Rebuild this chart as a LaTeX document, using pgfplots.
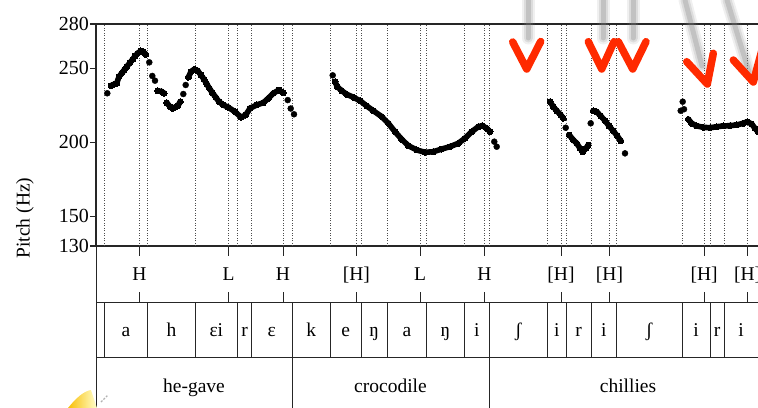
\documentclass[border=0pt]{standalone}
\usepackage{pgfplots}
\pgfplotsset{compat=1.18}
\usepackage{fontspec}
\setmainfont{Liberation Serif}
\definecolor{markred}{HTML}{FF2A00}
\newcommand{\lbl}{\fontsize{19.5bp}{22bp}\selectfont}

\pgfplotsset{
  run/.style={black, line width=5.6bp, line join=round, line cap=round,
    mark=*, mark size=3bp, mark options={solid, line width=0pt}},
  dots/.style={black, only marks, mark=*, mark size=3bp},
}
\tikzset{
  tier/.style={black!85, line width=1bp},
  bound/.style={black!70, line width=0.9bp, dash pattern=on 0.9bp off 1.6bp},
}
% tone tier: tick marks above and below the label
\newcommand{\tone}[2]{%
  \draw[tier] (axis cs:#1,-246) -- (axis cs:#1,-256);
  \draw[tier] (axis cs:#1,-292) -- (axis cs:#1,-302);
  \node[anchor=base, inner sep=0pt] at (axis cs:#1,-280.7) {\lbl #2};}
\newcommand{\seg}[2]{%
  \node[anchor=base, inner sep=0pt] at (axis cs:#1,-336.7) {\lbl #2};}
\newcommand{\word}[2]{%
  \node[anchor=base, inner sep=0pt] at (axis cs:#1,-392) {\lbl #2};}

\begin{document}
\begin{tikzpicture}
\useasboundingbox (0,0) rectangle (758bp,-408bp);

% ---------------- pitch track ----------------
\begin{axis}[
  at={(96bp,-246bp)}, anchor=south west,
  scale only axis, width=684bp, height=222bp,
  xmin=96, xmax=780, ymin=130, ymax=280,
  axis line style={black!85, line width=1.3bp},
  xtick=\empty,
  ytick={130,150,200,250,280},
  ytick pos=left, tick align=outside,
  major tick length=6bp,
  tick style={black!85, line width=1.3bp},
  yticklabel style={font=\fontsize{20bp}{20bp}\selectfont, inner sep=1bp},
  /pgf/number format/assume math mode=true,
  /pgf/number format/1000 sep={},
]
% interval boundaries and tone points
\pgfplotsinvokeforeach{104.3,139.5,147.7,195.3,228.7,237.3,251.7,283,292,330.7,
  356.3,361,387.3,420,426.7,464.3,484.5,489.3,547.3,561,566.3,591,609.5,616.3,
  682,704.2,710,724,747.7}{
  \draw[bound] (axis cs:#1,130) -- (axis cs:#1,280);
}

% "he gave"
\addplot[dots] coordinates {(107.3,233.2)};
\addplot[run] coordinates {(111,238.3) (114.3,239.3) (116.7,239.9) (119,244.4)
  (121.7,246.7) (124.3,248.9) (126.7,251.1) (130,253.9) (132.7,256.1) (135,258.4)
  (137.7,260.2) (140.7,261.8) (143.3,261.3) (145.7,259.5)};
\addplot[dots] coordinates {(149.3,254.1) (152.3,244.9) (155,241.7)};
\addplot[run] coordinates {(157.7,234.9) (161.7,234.3) (164,233.2)};
\addplot[run] coordinates {(166.7,226.8) (170,224.1) (172.7,223) (175,223.7)
  (177.7,224.6) (180.3,227.5)};
\addplot[dots] coordinates {(183.3,232.7) (185.7,238.8)};
\addplot[run] coordinates {(188.3,244) (191,247.8) (194.3,249.4) (197.7,248.4)
  (201,245.5) (204,242.6) (206.7,239.5) (209.3,236.6) (212.3,233.6) (215.7,230.5)
  (219,227.5) (223.3,225.3) (228.3,223.7) (235,220.7) (241,217) (245.7,218.5)
  (250,223) (256.7,225.3) (263.3,226.8) (268.3,229.8) (273.3,233.2) (279,235.4)
  (283.3,233.4)};
\addplot[dots] coordinates {(287.7,228.6) (290.7,222.9) (294,219)};

% "crocodile"
\addplot[dots] coordinates {(332.7,245.3)};
\addplot[run] coordinates {(335,241) (337.3,237.6) (341.7,234.9) (346.7,232.5)
  (353.3,230.5) (360,228.2) (366.7,224.6) (373.3,221.4) (381.7,217.4) (388.3,212.9)
  (395,207.2) (401.7,202.1) (408.3,197.8) (416.7,194.9) (425,193.3) (433.3,193.7)
  (441.7,195.5) (450,197.1) (458.3,199.4) (465,202.8) (471.7,207.2) (478.3,210.6)
  (482.3,211.3) (486.7,209.5) (490,207.2)};
\addplot[dots] coordinates {(494.3,200.5) (496.7,197.1)};

% "chillies"
\addplot[run] coordinates {(550,227.5) (553.3,224.1) (556.7,221.4) (560.7,218.5)
  (563.3,216.3)};
\addplot[dots] coordinates {(565.7,209.9)};
\addplot[run] coordinates {(569.3,205) (572.7,202.1) (576.7,199.4) (580,196)
  (582.7,193.7) (586,196) (588.3,198.2)};
\addplot[dots] coordinates {(590.7,212.9)};
\addplot[run] coordinates {(593.3,221.4) (596.7,220.7) (600.7,217.8) (605,214.7)
  (609,211.1) (613.3,207.7) (617.3,204.3) (620.7,201.1)};
\addplot[dots] coordinates {(625,192.6)};
\addplot[dots] coordinates {(680.7,221.4) (682.7,227.5) (684,222.4)};
\addplot[run] coordinates {(688.3,215.6) (691.7,212.9) (696.7,211.1) (703.3,210.2)
  (710,209.9) (716.7,210.6) (723.3,211.1) (730,211.3) (736.7,211.8) (743.3,212.9)
  (747.3,214) (751.7,212.4) (755,209.5) (758,207.2)};
\end{axis}

% ---------------- annotation tiers ----------------
\begin{axis}[
  at={(96bp,-420bp)}, anchor=south west,
  scale only axis, width=684bp, height=174bp,
  xmin=96, xmax=780, ymin=-420, ymax=-246,
  axis lines=none, clip=false,
]
\addplot[draw=none] coordinates {(100,-300)};
\draw[tier] (axis cs:96,-246) -- (axis cs:96,-420);
\draw[tier] (axis cs:96,-302) -- (axis cs:780,-302);
\draw[tier] (axis cs:96,-357) -- (axis cs:780,-357);

% tones
\tone{139.5}{H}
\tone{228.7}{L}
\tone{283}{H}
\tone{356.3}{[H]}
\tone{420}{L}
\tone{484.5}{H}
\tone{561}{[H]}
\tone{609.5}{[H]}
\tone{704.2}{[H]}
\tone{747.7}{[H]}

% segments
\pgfplotsinvokeforeach{104.3,147.7,195.3,237.3,251.7,292,330.7,361,387.3,
  426.7,464.3,489.3,547.3,566.3,591,616.3,682,710,724}{
  \draw[tier] (axis cs:#1,-302) -- (axis cs:#1,-357);
}
\seg{126}{a}
\seg{171.5}{h}
\seg{216.3}{ɛi}
\seg{244.5}{r}
\seg{271.8}{ɛ}
\seg{311.3}{k}
\seg{345.8}{e}
\seg{374.2}{ŋ}
\seg{407}{a}
\seg{445.5}{ŋ}
\seg{476.8}{i}
\seg{518.3}{ʃ}
\seg{556.8}{i}
\seg{578.7}{r}
\seg{603.7}{i}
\seg{649.2}{ʃ}
\seg{696}{i}
\seg{717}{r}
\seg{741}{i}

% words
\draw[tier] (axis cs:292,-357) -- (axis cs:292,-420);
\draw[tier] (axis cs:489.3,-357) -- (axis cs:489.3,-420);
\word{194}{he-gave}
\word{390.5}{crocodile}
\word{628}{chillies}
\end{axis}

\node[rotate=90, inner sep=0pt] at (25bp,-218bp) {\lbl Pitch (Hz)};

% ---------------- pointers ----------------
\foreach \a/\b/\c/\d in {528/0/528/-38, 603/0/603/-38, 633/0/633/-38,
  685/0/702/-66, 727/0/749/-72}{
  \draw[gray, line width=13bp, opacity=0.12, line cap=round] (\a bp,\b bp) -- (\c bp,\d bp);
  \draw[gray, line width=9bp, opacity=0.18, line cap=round] (\a bp,\b bp) -- (\c bp,\d bp);
  \draw[gray, line width=5bp, opacity=0.28, line cap=round] (\a bp,\b bp) -- (\c bp,\d bp);
}
\begin{scope}[markred, line width=7.5bp, line cap=round, line join=round]
  \draw (512.7bp,-42bp) -- (526.7bp,-69bp) -- (540.7bp,-41.5bp);
  \draw (588.3bp,-41.7bp) -- (601.7bp,-69bp) -- (614bp,-41.7bp);
  \draw (618.3bp,-41.7bp) -- (632.7bp,-69bp) -- (646bp,-41.7bp);
  \draw (686.7bp,-61.7bp) -- (707.3bp,-84bp) -- (713.3bp,-53.3bp);
  \draw (733.3bp,-60bp) -- (753.3bp,-82bp) -- (762bp,-50bp);
\end{scope}

% small cursor icon in the corner
\shade[left color=yellow!55!orange!90!brown, right color=yellow!20]
  (68bp,-408bp) .. controls (76bp,-398bp) and (84bp,-391bp) .. (91bp,-390bp)
  -- (97bp,-408bp) -- cycle;
\draw[gray!60, line width=1.2bp, dash pattern=on 2bp off 1.5bp] (101bp,-402bp) -- (108bp,-395bp);
\end{tikzpicture}
\end{document}
